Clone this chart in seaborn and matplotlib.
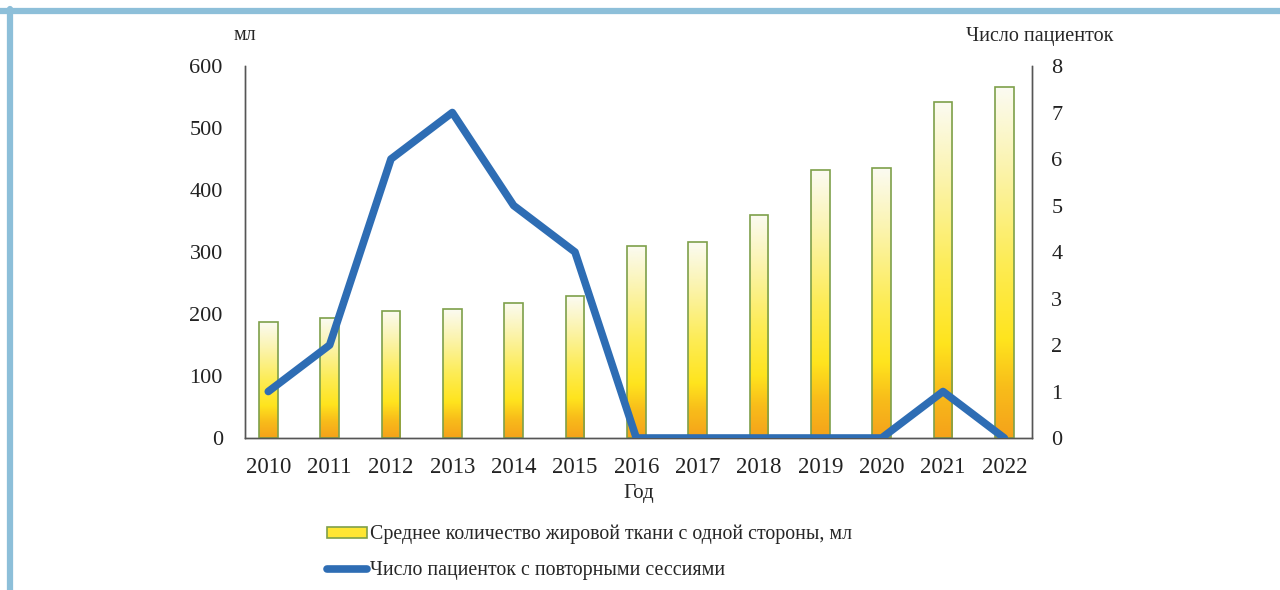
import numpy as np
import pandas as pd
import matplotlib
matplotlib.use("Agg")
import matplotlib.pyplot as plt
import seaborn as sns
from matplotlib.colors import LinearSegmentedColormap
from matplotlib.patches import Rectangle
from matplotlib.lines import Line2D

years = ["2010", "2011", "2012", "2013", "2014", "2015", "2016",
         "2017", "2018", "2019", "2020", "2021", "2022"]
fat_ml = [187, 193, 205, 208, 218, 229, 310, 316, 360, 432, 435, 542, 566]
patients = [1, 2, 6, 7, 5, 4, 0, 0, 0, 0, 0, 1, 0]
left_ticks = [0, 100, 200, 300, 400, 500, 600]
right_ticks = [0, 1, 2, 3, 4, 5, 6, 7, 8]

bar_label = "Среднее количество жировой ткани с одной стороны, мл"
line_label = "Число пациенток с повторными сессиями"

sns.set_style("white")
plt.rcParams["font.family"] = ["Liberation Serif", "DejaVu Serif"]

df = pd.DataFrame({"year": years, "fat": fat_ml, "patients": patients})

fig = plt.figure(figsize=(12.8, 5.9), dpi=100)
ax = fig.add_axes([0.1914, 0.2576, 0.6148, 0.6305])

sns.barplot(data=df, x="year", y="fat", ax=ax, width=0.3,
            color="#ffe633", edgecolor="#7ea04a", linewidth=1.2, zorder=2)

cmap = LinearSegmentedColormap.from_list(
    "fatgrad", [(0.0, "#f5a21a"), (0.14, "#f8bc1a"), (0.28, "#ffe41e"),
                (0.5, "#fdec55"), (0.78, "#fbf4b0"), (1.0, "#fbfbf2")])
grad = np.linspace(0, 1, 256).reshape(-1, 1)
for p in list(ax.patches):
    x0, y0 = p.get_x(), p.get_y()
    w, h = p.get_width(), p.get_height()
    im = ax.imshow(grad, cmap=cmap, origin="lower", aspect="auto",
                   extent=[x0, x0 + w, y0, y0 + h], zorder=2.5,
                   interpolation="bilinear")
    im.set_clip_path(p)
    p.set_facecolor("none")
    p.set_zorder(3)

ax.set_xlim(-0.38, 12.45)
ax.set_ylim(0, 600)
ax.set_yticks(left_ticks)
ax.set_xlabel("Год", fontsize=15, labelpad=4)
ax.set_ylabel("")
ax.tick_params(axis="both", length=0, labelsize=16.5, colors="#222222")
ax.tick_params(axis="y", pad=16, labelsize=16)
ax.tick_params(axis="x", pad=14)

ax2 = ax.twinx()
sns.lineplot(data=df, x="year", y="patients", ax=ax2, color="#2e6db4",
             linewidth=5.5, sort=False, zorder=4)
ax2.set_ylim(0, 8)
ax2.set_yticks(right_ticks)
ax2.set_ylabel("")
ax2.set_xlim(-0.38, 12.45)
ax2.tick_params(axis="y", length=0, labelsize=16, pad=14, colors="#222222")

for a in (ax, ax2):
    a.spines["top"].set_visible(False)
    for s in ("left", "right", "bottom"):
        a.spines[s].set_color("#555555")
        a.spines[s].set_linewidth(1.0)

fig.text(245 / 1280, 1 - 36 / 590, "мл", ha="center", va="center", fontsize=14.5)
fig.text(1040 / 1280, 1 - 36 / 590, "Число пациенток", ha="center",
         va="center", fontsize=14.5)

handles = [Rectangle((0, 0), 1, 1, facecolor="#ffe633", edgecolor="#7ea04a",
                     linewidth=1.2),
           Line2D([0], [0], color="#2e6db4", linewidth=5.5)]
fig.legend(handles, [bar_label, line_label], loc="upper left",
           bbox_to_anchor=(319 / 1280, 1 - 517 / 590), frameon=False,
           fontsize=14.3, handlelength=2.0, handleheight=0.5,
           handletextpad=0.15, labelspacing=0.85, borderaxespad=0)

# light blue frame
fig.add_artist(Line2D([0, 1], [1 - 11 / 590, 1 - 11 / 590],
                      transform=fig.transFigure, color="#8dbfd9", linewidth=4.5))
fig.add_artist(Line2D([10 / 1280, 10 / 1280], [0, 1 - 9 / 590],
                      transform=fig.transFigure, color="#8dbfd9", linewidth=4.5))

fig.savefig("out.png", dpi=100)
